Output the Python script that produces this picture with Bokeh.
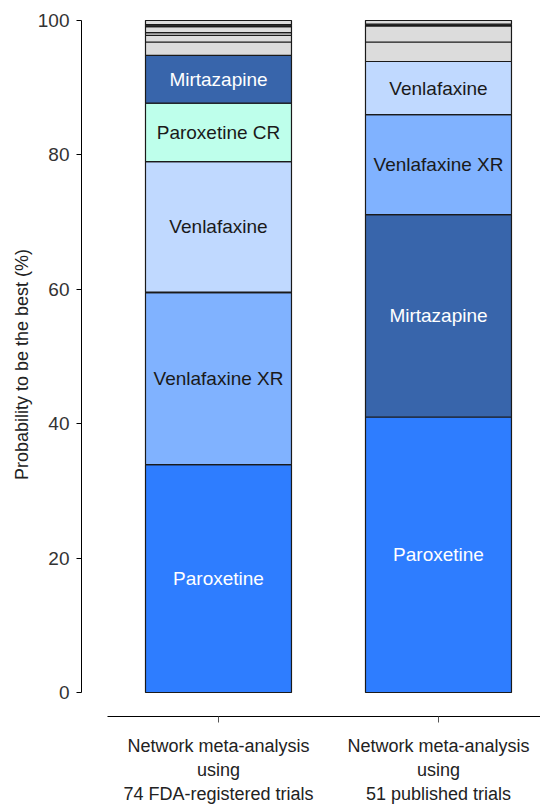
from bokeh.plotting import figure
from bokeh.models import ColumnDataSource, Range1d, FixedTicker
from bokeh.core.properties import value
from bokeh.embed import file_html
from bokeh.resources import INLINE

categories = ["Network meta-analysis\nusing\n74 FDA-registered trials",
              "Network meta-analysis\nusing\n51 published trials"]

fda_drugs = ["Paroxetine", "Venlafaxine XR", "Other", "Venlafaxine", "Paroxetine CR",
             "Mirtazapine", "Other", "Other", "Other", "Other", "Other", "Other", "Other"]
fda_values = [33.9, 25.6, 0.1, 19.4, 8.7, 7.1, 2.0, 1.0, 0.4, 0.9, 0.2, 0.1, 0.6]

pub_drugs = ["Paroxetine", "Mirtazapine", "Venlafaxine XR", "Venlafaxine",
             "Other", "Other", "Other", "Other", "Other"]
pub_values = [41.0, 30.1, 14.9, 7.9, 2.9, 2.4, 0.15, 0.1, 0.55]

colors = {"Paroxetine": "#2E7DFF", "Venlafaxine XR": "#80B2FF", "Venlafaxine": "#C0D9FF",
          "Paroxetine CR": "#BEFFEB", "Mirtazapine": "#3865AB", "Other": "#DCDCDC"}
text_colors = {"Paroxetine": "white", "Mirtazapine": "white"}

y_ticks = [0, 20, 40, 60, 80, 100]

xs, bottoms, tops, fills = [], [], [], []
lx, ly, lt, lc = [], [], [], []
for i, (drugs, vals) in enumerate([(fda_drugs, fda_values), (pub_drugs, pub_values)]):
    base = 0.0
    for d, v in zip(drugs, vals):
        xs.append(i + 1)
        bottoms.append(base)
        tops.append(base + v)
        fills.append(colors[d])
        if d != "Other":
            lx.append(i + 1)
            ly.append(base + v / 2)
            lt.append(d)
            lc.append(text_colors.get(d, "#1a1a1a"))
        base += v

bars = ColumnDataSource(dict(x=xs, bottom=bottoms, top=tops, fill=fills))
labels = ColumnDataSource(dict(x=lx, y=ly, text=lt, color=lc))

FONT = "Liberation Sans"

p = figure(width=540, height=807, output_backend="svg", toolbar_location=None,
           x_range=Range1d(0.3773, 2.4637), y_range=Range1d(-3.571, 101.19),
           min_border_left=81, min_border_right=0, min_border_top=12, min_border_bottom=91)
p.outline_line_color = None
p.xgrid.visible = False
p.ygrid.visible = False

p.vbar(x="x", bottom="bottom", top="top", width=0.6636, source=bars,
       fill_color="fill", line_color="#1a1a1a", line_width=1.2)
p.text(x="x", y="y", text="text", text_color="color", source=labels,
       text_align="center", text_baseline="middle",
       text_font=value(FONT), text_font_size="19px")

ya = p.yaxis[0]
ya.ticker = FixedTicker(ticks=y_ticks)
ya.bounds = (0, 100)
ya.major_tick_out = 5
ya.major_tick_in = 0
ya.minor_tick_out = 0
ya.minor_tick_in = 0
ya.axis_line_color = "black"
ya.major_tick_line_color = "black"
ya.major_label_text_font = FONT
ya.major_label_text_font_size = "19px"
ya.major_label_text_color = "#333333"
ya.major_label_standoff = 7
ya.axis_label = "Probability to be the best (%)"
ya.axis_label_text_font = FONT
ya.axis_label_text_font_size = "18px"
ya.axis_label_text_font_style = "normal"
ya.axis_label_text_color = "#222222"
ya.axis_label_standoff = 3

xa = p.xaxis[0]
xa.ticker = FixedTicker(ticks=[1, 2])
xa.major_label_overrides = {1: categories[0], 2: categories[1]}
xa.bounds = (0.4955, 2.4637)
xa.major_tick_out = 6
xa.major_tick_in = 0
xa.minor_tick_out = 0
xa.minor_tick_in = 0
xa.axis_line_color = "black"
xa.major_tick_line_color = "#555555"
xa.major_label_text_font = FONT
xa.major_label_text_font_size = "18px"
xa.major_label_text_color = "#222222"
xa.major_label_standoff = 13
xa.major_label_orientation = "horizontal"

open("out.html", "w").write(file_html(p, INLINE))
